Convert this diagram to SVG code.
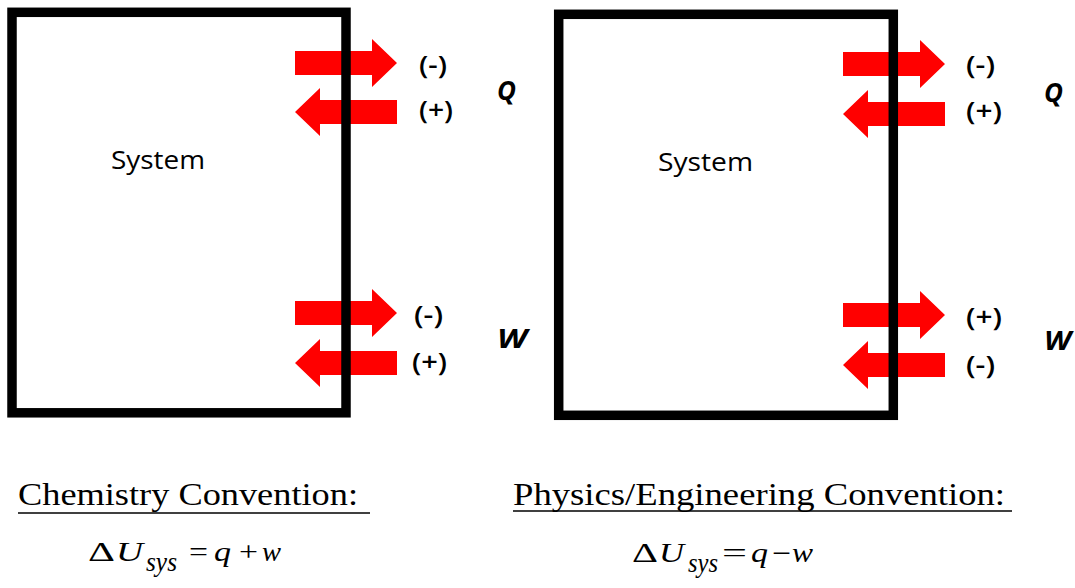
<svg xmlns="http://www.w3.org/2000/svg" xmlns:xlink="http://www.w3.org/1999/xlink" width="1075" height="588" viewBox="0 0 1075 588">
<style>
.box{fill:none;stroke:#000;stroke-width:9.5;stroke-linejoin:miter}
.arr{fill:#ff0000;stroke:none}
.lbl{font-family:"Open Sans","Liberation Sans",sans-serif;font-size:25px;font-weight:600;fill:#000}
.var{font-family:"Open Sans","Liberation Sans",sans-serif;font-size:26px;font-weight:bold;font-style:italic;fill:#000}
.sys{font-family:"Open Sans","Liberation Sans",sans-serif;font-size:25px;fill:#000}
.head{font-family:"Liberation Serif","Times New Roman",serif;font-size:31px;fill:#000}
.eq{font-family:"Liberation Serif","Times New Roman",serif;font-size:27px;fill:#000}
.it{font-style:italic}
.ul{stroke:#000;stroke-width:1.5}
</style>
<defs>
<path id="ra" d="M0,-12 H77 V-24 L102,0 L77,24 V12 H0 Z"/>
<path id="la" d="M0,0 L25,-24 V-12 H102 V12 H25 V24 Z"/>
</defs>
<rect width="1075" height="588" fill="#fff"/>
<g id="connectors" class="arr">
<use xlink:href="#ra" transform="translate(295,63)"/>
<use xlink:href="#la" transform="translate(295,112)"/>
<use xlink:href="#ra" transform="translate(295,313)"/>
<use xlink:href="#la" transform="translate(295,363)"/>
<use xlink:href="#ra" transform="translate(843,64)"/>
<use xlink:href="#la" transform="translate(843,114)"/>
<use xlink:href="#ra" transform="translate(843,315)"/>
<use xlink:href="#la" transform="translate(843,365)"/>
</g>
<g id="system-chem">
<rect class="box" x="12" y="12.3" width="334" height="400.5"/>
<text class="sys" x="111" y="169" textLength="94" lengthAdjust="spacingAndGlyphs">System</text>
</g>
<g id="system-phys">
<rect class="box" x="558.7" y="14.3" width="334.6" height="401"/>
<text class="sys" x="658" y="171" textLength="95" lengthAdjust="spacingAndGlyphs">System</text>
</g>
<g id="labels-chem">
<text class="lbl" x="419" y="74" textLength="28" lengthAdjust="spacingAndGlyphs">(-)</text>
<text class="lbl" x="419" y="119" textLength="34" lengthAdjust="spacingAndGlyphs">(+)</text>
<text class="var" x="497" y="100">Q</text>
<text class="lbl" x="414" y="324" textLength="29" lengthAdjust="spacingAndGlyphs">(-)</text>
<text class="lbl" x="412" y="371" textLength="35" lengthAdjust="spacingAndGlyphs">(+)</text>
<text class="var" x="497" y="348" textLength="30" lengthAdjust="spacingAndGlyphs">W</text>
</g>
<g id="labels-phys">
<text class="lbl" x="966" y="74" textLength="29" lengthAdjust="spacingAndGlyphs">(-)</text>
<text class="lbl" x="966" y="120" textLength="36" lengthAdjust="spacingAndGlyphs">(+)</text>
<text class="var" x="1044" y="102">Q</text>
<text class="lbl" x="966" y="326" textLength="36" lengthAdjust="spacingAndGlyphs">(+)</text>
<text class="lbl" x="966" y="374" textLength="29" lengthAdjust="spacingAndGlyphs">(-)</text>
<text class="var" x="1044" y="350" textLength="27" lengthAdjust="spacingAndGlyphs">W</text>
</g>
<g id="chem-convention">
<text class="head" x="18" y="505" textLength="340" lengthAdjust="spacingAndGlyphs">Chemistry Convention:</text>
<line class="ul" x1="18" y1="513" x2="370" y2="513"/>
<text class="eq" x="88" y="561" textLength="27" lengthAdjust="spacingAndGlyphs">Δ</text>
<text class="eq it" x="116" y="561" textLength="27" lengthAdjust="spacingAndGlyphs">U</text>
<text class="eq it" x="146" y="571" font-size="15" textLength="31" lengthAdjust="spacingAndGlyphs">sys</text>
<text class="eq" x="189" y="561" textLength="19" lengthAdjust="spacingAndGlyphs">=</text>
<text class="eq it" x="214" y="561" textLength="17" lengthAdjust="spacingAndGlyphs">q</text>
<text class="eq" x="239" y="561" textLength="19" lengthAdjust="spacingAndGlyphs">+</text>
<text class="eq it" x="262" y="561" textLength="19" lengthAdjust="spacingAndGlyphs">w</text>
</g>
<g id="phys-convention">
<text class="head" x="513" y="505" textLength="492" lengthAdjust="spacingAndGlyphs">Physics/Engineering Convention:</text>
<line class="ul" x1="513" y1="511" x2="1012" y2="511"/>
<text class="eq" x="632" y="562" textLength="26" lengthAdjust="spacingAndGlyphs">Δ</text>
<text class="eq it" x="659" y="562" textLength="25" lengthAdjust="spacingAndGlyphs">U</text>
<text class="eq it" x="688" y="572" font-size="15" textLength="30" lengthAdjust="spacingAndGlyphs">sys</text>
<text class="eq" x="722" y="562" textLength="25" lengthAdjust="spacingAndGlyphs">=</text>
<text class="eq it" x="751" y="562" textLength="17" lengthAdjust="spacingAndGlyphs">q</text>
<text class="eq" x="772" y="562" textLength="19" lengthAdjust="spacingAndGlyphs">−</text>
<text class="eq it" x="792" y="562" textLength="21" lengthAdjust="spacingAndGlyphs">w</text>
</g>
</svg>
